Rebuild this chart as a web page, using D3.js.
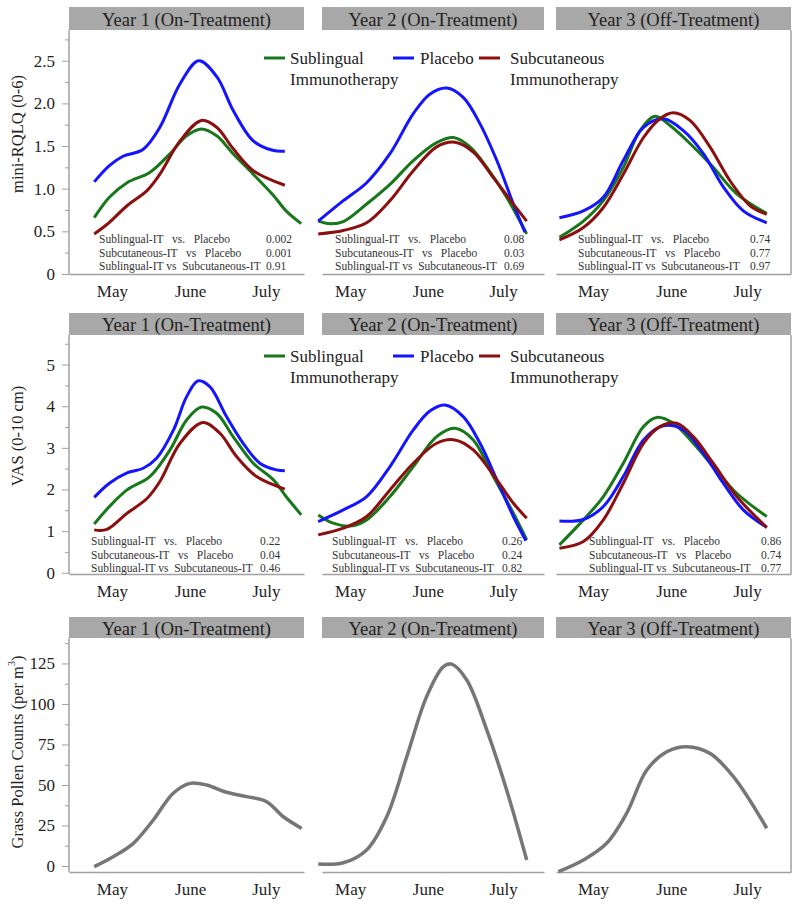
<!DOCTYPE html>
<html>
<head>
<meta charset="utf-8">
<script src="https://d3js.org/d3.v7.min.js"></script>
<style>
  body { margin: 0; background: #fff; }
  text { font-family: "Liberation Serif", "DejaVu Serif", serif; }
</style>
</head>
<body>
<div id="viz"></div>
<script>
// x values are days counted from May 1
var months = ['May', 'June', 'July'];
var monthDays = [15, 46, 76];
var panelTitles = ['Year 1 (On-Treatment)', 'Year 2 (On-Treatment)', 'Year 3 (Off-Treatment)'];
var seriesNames = ['Sublingual\nImmunotherapy', 'Placebo', 'Subcutaneous\nImmunotherapy'];
var seriesColors = ['#18771a', '#1414ff', '#8c0f0f'];

var rqlqTicks = [0, 0.5, 1.0, 1.5, 2.0, 2.5];
var vasTicks = [0, 1, 2, 3, 4, 5];
var pollenTicks = [0, 25, 50, 75, 100, 125];

// mini-RQLQ
var rqlqY1Sub = [[8,0.66],[14,0.90],[21,1.07],[30,1.19],[38,1.41],[44.6,1.62],[50.5,1.70],[56.5,1.62],[63,1.41],[71,1.17],[79,0.92],[84,0.74],[90,0.59]];
var rqlqY1Pla = [[8,1.08],[14,1.27],[19.4,1.38],[27.3,1.46],[34,1.72],[42,2.23],[49.4,2.50],[56.6,2.31],[63,1.92],[71,1.56],[78.7,1.45],[83.5,1.44]];
var rqlqY1Scit = [[8,0.47],[13,0.58],[21,0.80],[29,0.98],[34,1.17],[42,1.56],[50.5,1.80],[56.5,1.72],[63,1.47],[71,1.21],[83.5,1.04]];
var rqlqY2Sub = [[2.3,0.62],[7,0.59],[12.3,0.615],[21.6,0.82],[30.9,1.05],[40.2,1.33],[49.5,1.54],[56.2,1.60],[62.8,1.49],[69.5,1.25],[77.4,0.90],[85.4,0.47]];
var rqlqY2Pla = [[2.3,0.62],[12.3,0.86],[21.6,1.07],[30.9,1.41],[40.2,1.88],[46.9,2.11],[53.5,2.18],[60.1,2.07],[66.8,1.76],[73.5,1.33],[80.1,0.82],[84.7,0.49]];
var rqlqY2Scit = [[2.3,0.47],[12.3,0.51],[21.6,0.60],[30.9,0.86],[40.2,1.21],[49.5,1.49],[56.8,1.545],[64.1,1.43],[72.1,1.13],[80.1,0.82],[85.4,0.62]];
var rqlqY3Sub = [[1.7,0.43],[11.2,0.62],[19.1,0.86],[27,1.25],[33.6,1.68],[39.6,1.85],[45.5,1.74],[53.4,1.53],[62.6,1.25],[71.9,0.94],[83.8,0.71]];
var rqlqY3Pla = [[1.7,0.66],[11.2,0.74],[19.1,0.90],[27,1.33],[35,1.72],[42.9,1.82],[50.8,1.68],[58.7,1.41],[66.6,1.02],[74.5,0.74],[83.8,0.60]];
var rqlqY3Scit = [[1.7,0.40],[11.2,0.545],[19.1,0.78],[27,1.17],[35,1.60],[41.5,1.82],[46.8,1.89],[53.4,1.80],[61.3,1.49],[69.3,1.09],[77.2,0.80],[83.8,0.70]];

// VAS
var vasY1Sub = [[8,1.17],[14,1.59],[21,1.99],[30,2.31],[38,2.95],[44.6,3.67],[50.5,3.98],[56.5,3.83],[63,3.27],[71,2.63],[79,2.23],[84,1.83],[90,1.39]];
var vasY1Pla = [[8,1.81],[14,2.15],[21,2.40],[27.4,2.51],[32.7,2.75],[39.4,3.43],[44.6,4.23],[49.2,4.61],[53.8,4.47],[60.4,3.75],[67,3.11],[73.6,2.63],[80.2,2.47],[83.5,2.45]];
var vasY1Scit = [[8,1.03],[13,1.04],[21,1.43],[29,1.79],[34,2.19],[42,3.11],[51,3.61],[57.8,3.35],[64.4,2.79],[72.3,2.31],[83.5,2.01]];
var vasY2Sub = [[2.3,1.39],[8.3,1.19],[15,1.12],[21.6,1.27],[30.9,1.83],[40.2,2.55],[49.5,3.27],[56.8,3.47],[64.1,3.19],[72.1,2.31],[80.1,1.43],[85.4,0.79]];
var vasY2Pla = [[2.3,1.23],[12.3,1.51],[21.6,1.83],[30.9,2.55],[40.2,3.43],[46.9,3.89],[52.8,4.03],[60.1,3.75],[66.8,3.11],[73.5,2.23],[80.1,1.35],[85.1,0.77]];
var vasY2Scit = [[2.3,0.91],[12.3,1.07],[21.6,1.35],[30.9,1.99],[40.2,2.63],[49.5,3.11],[56.8,3.19],[64.1,2.95],[73.5,2.23],[80.1,1.67],[85.4,1.31]];
var vasY3Sub = [[1.7,0.67],[11.2,1.27],[19.1,1.83],[27,2.63],[35,3.51],[40.2,3.73],[46.8,3.59],[54.7,3.11],[62.6,2.55],[71.9,1.91],[83.8,1.35]];
var vasY3Pla = [[1.7,1.24],[11.2,1.28],[19.1,1.59],[27,2.31],[35,3.19],[42.9,3.53],[50.8,3.43],[58.7,2.87],[66.6,2.15],[74.5,1.51],[83.8,1.09]];
var vasY3Scit = [[1.7,0.59],[11.2,0.75],[19.1,1.27],[27,2.15],[35,3.11],[41.5,3.51],[48.1,3.59],[54.7,3.27],[62.6,2.63],[71.9,1.83],[83.8,1.09]];

// grass pollen counts
var pollenY1 = [[8,-0.4],[15.5,5.7],[23.5,14],[31.4,28.4],[39.3,44.9],[45.9,51],[52.5,50],[60.4,45.5],[68.4,42.8],[76.3,39.7],[82.9,30.4],[90.2,23.2]];
var pollenY2 = [[2.3,1.2],[12.3,2],[21.6,9.9],[29.6,30.4],[37.6,67.4],[45.5,104.5],[52.2,123],[55.5,124.6],[61.5,114.8],[69.5,83.9],[77.4,46.9],[85.4,3.7]];
var pollenY3 = [[1.3,-3.5],[11.2,3.7],[20.4,14],[28.3,32.5],[36.3,59.2],[44.2,70.5],[52.1,73.6],[61.3,69.5],[70.6,55.1],[83.8,23.3]];

// p-values
var compLabels = ['Sublingual-IT   vs.   Placebo', 'Subcutaneous-IT   vs   Placebo', 'Sublingual-IT vs  Subcutaneous-IT'];
var rqlqPvals = [['0.002','0.001','0.91'], ['0.08','0.03','0.69'], ['0.74','0.77','0.97']];
var vasPvals = [['0.22','0.04','0.46'], ['0.26','0.24','0.82'], ['0.86','0.74','0.77']];

// layout
var width = 800, height = 907;
var cols = [{x0: 69, x1: 304, dom: [-2, 91.1]}, {x0: 322, x1: 544, dom: [3.8, 92.3]}, {x0: 556, x1: 791, dom: [0.35, 93.4]}];
var axisColor = '#a0a0a0';

var rows = [
  {top: 7, head: 23, bottom: 274, dom: [0, 2.86], ticks: rqlqTicks, minor: 0.25, fmt: function(d) { return d === 0 ? '0' : d.toFixed(1); },
   label: 'mini-RQLQ (0-6)', labelY: 134, series: [[rqlqY1Sub, rqlqY1Pla, rqlqY1Scit], [rqlqY2Sub, rqlqY2Pla, rqlqY2Scit], [rqlqY3Sub, rqlqY3Pla, rqlqY3Scit]],
   pvals: rqlqPvals, pPos: [{x: 99, px: 266}, {x: 335, px: 504}, {x: 578, px: 750}], pY: 239, legendY: 58},
  {top: 313, head: 22, bottom: 574, dom: [-0.03, 5.71], ticks: vasTicks, minor: 0.5, fmt: d3.format('d'),
   label: 'VAS (0-10 cm)', labelY: 436, series: [[vasY1Sub, vasY1Pla, vasY1Scit], [vasY2Sub, vasY2Pla, vasY2Scit], [vasY3Sub, vasY3Pla, vasY3Scit]],
   pvals: vasPvals, pPos: [{x: 91, px: 260}, {x: 332, px: 502}, {x: 589, px: 761}], pY: 541, legendY: 356},
  {top: 617, head: 21, bottom: 872, dom: [-3.7, 140.7], ticks: pollenTicks, minor: 12.5, fmt: d3.format('d'),
   label: 'Grass Pollen Counts (per m', labelY: 752, pollen: [pollenY1, pollenY2, pollenY3]}
];

var svg = d3.select('#viz').append('svg')
  .attr('width', width)
  .attr('height', height)
  .style('background', '#fff');

var line = d3.line()
  .x(function(d) { return d[0]; })
  .y(function(d) { return d[1]; })
  .curve(d3.curveCatmullRom.alpha(0.5));

rows.forEach(function(row, r) {
  var plotTop = row.top + row.head;
  var yScale = d3.scaleLinear().domain(row.dom).range([row.bottom, plotTop]);

  // y axis on the first column only
  var minorVals = d3.range(0, row.dom[1], row.minor).filter(function(v) { return row.ticks.indexOf(v) < 0; });
  var yMinor = svg.append('g')
    .attr('transform', 'translate(' + cols[0].x0 + ',0)')
    .call(d3.axisLeft(yScale).tickValues(minorVals).tickSize(4).tickFormat(''));
  var yMajor = svg.append('g')
    .attr('transform', 'translate(' + cols[0].x0 + ',0)')
    .call(d3.axisLeft(yScale).tickValues(row.ticks).tickSize(7).tickPadding(7).tickFormat(row.fmt));
  [yMinor, yMajor].forEach(function(g) {
    g.select('.domain').remove();
    g.selectAll('line').attr('stroke', axisColor);
  });
  yMajor.selectAll('text').attr('font-size', 17).attr('fill', '#222')
    .style('font-family', '"Liberation Serif", serif');
  svg.append('line')
    .attr('x1', cols[0].x0).attr('x2', cols[0].x0)
    .attr('y1', plotTop).attr('y2', row.bottom)
    .attr('stroke', axisColor).attr('stroke-width', 1.5);

  // y title
  var yt = svg.append('text')
    .attr('transform', 'translate(17,' + row.labelY + ') rotate(-90)')
    .attr('text-anchor', 'middle')
    .attr('dominant-baseline', 'central')
    .attr('font-size', 16.5)
    .attr('fill', '#222')
    .text(row.label);
  if (row.pollen) {
    yt.append('tspan').attr('font-size', 10).attr('dy', -6).text('3');
    yt.append('tspan').attr('dy', 6).text(')');
  }

  cols.forEach(function(col, c) {
    var xScale = d3.scaleLinear().domain(col.dom).range([col.x0, col.x1]);

    // header strip
    svg.append('rect')
      .attr('x', col.x0).attr('y', row.top)
      .attr('width', col.x1 - col.x0).attr('height', row.head)
      .attr('fill', '#a8a8a8');
    svg.append('text')
      .attr('x', (col.x0 + col.x1) / 2)
      .attr('y', row.top + row.head / 2 + 1)
      .attr('text-anchor', 'middle')
      .attr('dominant-baseline', 'central')
      .attr('font-size', 18.5)
      .attr('fill', '#222')
      .text(panelTitles[c]);

    // bottom axis with month labels
    var xg = svg.append('g')
      .attr('transform', 'translate(0,' + row.bottom + ')')
      .call(d3.axisBottom(xScale).tickValues(monthDays).tickSize(0).tickPadding(11)
        .tickFormat(function(d, i) { return months[i]; }));
    xg.select('.domain').attr('stroke', axisColor).attr('stroke-width', 1.5);
    xg.selectAll('text').attr('font-size', 17).attr('fill', '#222')
      .style('font-family', '"Liberation Serif", serif');

    if (c === 2) {
      svg.append('line')
        .attr('x1', col.x1).attr('x2', col.x1)
        .attr('y1', plotTop).attr('y2', row.bottom)
        .attr('stroke', axisColor).attr('stroke-width', 1.5);
    }

    function toPx(arr) {
      return arr.map(function(d) { return [xScale(d[0]), yScale(d[1])]; });
    }

    if (row.pollen) {
      svg.append('path')
        .attr('d', line(toPx(row.pollen[c])))
        .attr('fill', 'none')
        .attr('stroke', '#767676')
        .attr('stroke-width', 3.5);
      return;
    }

    // p-values
    var pg = svg.append('g');
    compLabels.forEach(function(lab, i) {
      pg.append('text')
        .attr('x', row.pPos[c].x)
        .attr('y', row.pY + i * 13.7)
        .attr('dominant-baseline', 'central')
        .attr('font-size', 11.5)
        .attr('fill', '#333')
        .style('white-space', 'pre')
        .text(lab);
      pg.append('text')
        .attr('x', row.pPos[c].px)
        .attr('y', row.pY + i * 13.7)
        .attr('dominant-baseline', 'central')
        .attr('font-size', 11.5)
        .attr('fill', '#333')
        .text(row.pvals[c][i]);
    });

    row.series[c].forEach(function(s, i) {
      svg.append('path')
        .attr('d', line(toPx(s)))
        .attr('fill', 'none')
        .attr('stroke', seriesColors[i])
        .attr('stroke-width', 3);
    });
  });

  // legend
  if (!row.pollen) {
    var legendItems = [{x: 264, tx: 290}, {x: 393, tx: 420}, {x: 479, tx: 510}];
    legendItems.forEach(function(it, i) {
      svg.append('line')
        .attr('x1', it.x).attr('x2', it.x + 21)
        .attr('y1', row.legendY).attr('y2', row.legendY)
        .attr('stroke', seriesColors[i]).attr('stroke-width', 3);
      var t = svg.append('text')
        .attr('x', it.tx).attr('y', row.legendY)
        .attr('dominant-baseline', 'central')
        .attr('font-size', 17)
        .attr('fill', '#222');
      seriesNames[i].split('\n').forEach(function(part, k) {
        t.append('tspan').attr('x', it.tx).attr('dy', k === 0 ? 0 : 21).text(part);
      });
    });
  }
});
</script>
</body>
</html>
